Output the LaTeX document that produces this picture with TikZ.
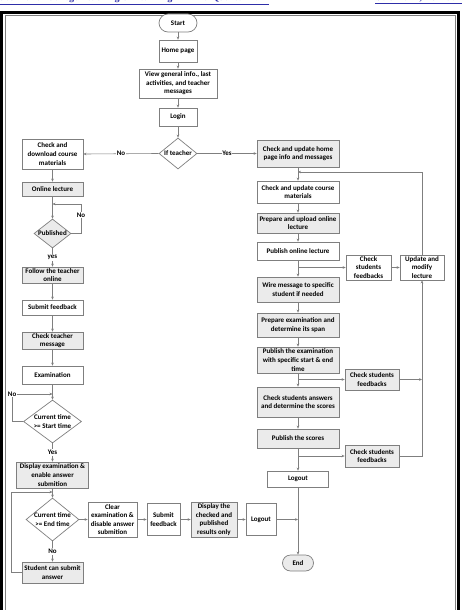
\documentclass[tikz,border=0pt]{standalone}
\usepackage{fontspec}
\setmainfont{Carlito}
\newfontfamily\hdrfont{Liberation Serif}
\usetikzlibrary{shapes.geometric,arrows.meta}
\definecolor{lg}{HTML}{7F7F7F}
\definecolor{bg}{HTML}{EBEBEB}
\definecolor{hb}{HTML}{2E2EA8}
\tikzset{
  bx/.style={draw=lg, line width=0.7pt, align=center, inner sep=0pt, font=\bfseries\fontsize{7}{8.6}\selectfont, fill=white},
  gb/.style={bx, fill=bg},
  wh/.style 2 args={minimum width=#1pt, minimum height=#2pt},
  dia/.style={diamond, draw=lg, line width=0.7pt, inner sep=0pt, fill=white},
  txt/.style={align=center, inner sep=0pt, font=\bfseries\fontsize{7}{8.6}\selectfont},
  lab/.style={fill=white, inner sep=0.8pt, font=\bfseries\fontsize{7}{8.6}\selectfont},
  ar/.style={draw=lg, line width=0.6pt, -{Stealth[length=3pt,width=2.6pt]}},
  ln/.style={draw=lg, line width=0.6pt},
}
\begin{document}
\begin{tikzpicture}[x=1pt,y=-1pt]
\clip (0,0) rectangle (462,610);
% header
\node[anchor=base west, inner sep=0pt, text=hb, font=\hdrfont\bfseries\fontsize{10}{12}\selectfont] (hl) at (0,0.5) {\underline{Journal of College Teaching \& Learning -- Third Quarter 2014}};
\node[anchor=base west, inner sep=0pt, text=hb, font=\hdrfont\bfseries\fontsize{10}{12}\selectfont] (hr) at (375,0.5) {\underline{Volume 11, Number 3}};
% frame
\draw[black, line width=3pt] (1.5,12.5) rectangle (458.5,640);
\draw[lg, line width=0.6pt] (5,15.8) rectangle (455,640);

% top
\node[bx, wh={38}{18}, rounded corners=9pt] (start) at (178,23) {Start};
\node[bx, wh={38}{22}] (home) at (178,51) {Home page};
\node[bx, wh={78}{29}] (view) at (178,83.5) {View general info., last\\activities, and teacher\\messages};
\node[bx, wh={38}{18}] (login) at (178,117) {Login};
\node[dia, minimum width=38pt, minimum height=31pt] (ift) at (178,153.5) {};
\node[txt] (ift-t) at (ift) {If teacher};

% left column
\node[bx, wh={61}{30}] (dl) at (52.5,154) {Check and\\download course\\materials};
\node[gb, wh={61}{14}] (onl) at (52.5,189) {Online lecture};
\node[dia, fill=bg, minimum width=37pt, minimum height=29pt] (pub) at (52.5,233.5) {};
\node[txt] (pub-t) at (pub) {Published};
\node[gb, wh={61}{16}] (fol) at (52.5,275) {Follow the teacher\\online};
\node[bx, wh={61}{15}] (sfb) at (52.5,307.5) {Submit feedback};
\node[gb, wh={61}{17}] (ctm) at (52.5,340.5) {Check teacher\\message};
\node[bx, wh={61}{18}] (exam) at (52.5,375) {Examination};
\node[dia, minimum width=58pt, minimum height=43pt] (cst) at (52.5,421.5) {};
\node[txt] (cst-t) at (cst) {Current time\\>= Start time};
\node[gb, wh={72}{26}] (dex) at (52.5,475) {Display examination \&\\enable answer\\submition};
\node[dia, minimum width=53pt, minimum height=43pt] (cet) at (52.5,519.5) {};
\node[txt] (cet-t) at (cet) {Current time\\>= End time};
\node[gb, wh={61}{21}] (stu) at (52.5,572.5) {Student can submit\\answer};
\node[bx, wh={49}{35}] (clr) at (112.5,519.5) {Clear\\examination \&\\disable answer\\submition};
\node[bx, wh={33}{32}] (sfb2) at (163.5,519.5) {Submit\\feedback};
\node[gb, wh={46}{35}] (dchk) at (214,519.5) {Display the\\checked and\\published\\results only};
\node[bx, wh={30}{32}] (lo2) at (261,519.5) {Logout};

% right column
\node[gb, wh={82}{27}] (chh) at (298,153.5) {Check and update home\\page info and messages};
\node[bx, wh={82}{22}] (chc) at (298,192) {Check and update course\\materials};
\node[gb, wh={82}{20}] (pul) at (298,223) {Prepare and upload online\\lecture};
\node[bx, wh={82}{18}] (pol) at (298,251) {Publish online lecture};
\node[bx, wh={45}{25}] (csf1) at (368.5,267.5) {Check\\students\\feedbacks};
\node[bx, wh={44}{25}] (upd) at (422,267.5) {Update and\\modify\\lecture};
\node[gb, wh={82}{25}] (wire) at (298,289.5) {Wire message to specific\\student if needed};
\node[gb, wh={82}{24}] (pex) at (298,325) {Prepare examination and\\determine its span};
\node[gb, wh={82}{26}] (pbe) at (298,360) {Publish the examination\\with specific start \& end\\time};
\node[gb, wh={54}{21}] (csf2) at (372,379.5) {Check students\\feedbacks};
\node[gb, wh={82}{30}] (cans) at (298,402) {Check students answers\\and determine the scores};
\node[gb, wh={82}{19}] (psc) at (298,438.5) {Publish the scores};
\node[gb, wh={54}{22}] (csf3) at (372,456) {Check students\\feedbacks};
\node[bx, wh={61}{16}] (lo1) at (298,479) {Logout};
\node[gb, wh={31}{16}, rounded corners=8pt] (end) at (298,563) {End};

% coordinates
\coordinate (pubin) at (52.5,204);
\coordinate (stin) at (52.5,394);
\coordinate (endin) at (52.5,492);
\coordinate (chin) at (298,172);
\coordinate (b1) at (298,267.5);
\coordinate (b2) at (298,379.5);
\coordinate (b3) at (298,456);
\coordinate (r2) at (422,379.5);
\coordinate (j) at (298,519.5);

% connectors top
\draw[ar] (start) -- (home);
\draw[ar] (home) -- (view);
\draw[ar] (view) -- (login);
\draw[ar] (login) -- (ift);
\draw[ar] (ift.west) -- node[lab] (l-no1) {No} (dl.east);
\draw[ar] (ift.east) -- node[lab] (l-yes1) {Yes} (chh.west);

% left connectors
\draw[ar] (dl) -- (onl);
\draw[ar] (onl) -- (pub);
\draw[ar] (pub.east) -- ++(9.7,0) |- node[lab, pos=0.31] (l-no2) {No} (pubin);
\draw[ar] (pub) -- node[lab] (l-yes2) {yes} (fol);
\draw[ar] (fol) -- (sfb);
\draw[ar] (sfb) -- (ctm);
\draw[ar] (ctm) -- (exam);
\draw[ar] (exam) -- (cst);
\draw[ar] (cst.west) -- ++(-11,0) |- node[lab, pos=0.5] (l-no3) {No} (stin);
\draw[ar] (cst) -- node[lab] (l-yes3) {Yes} (dex);
\draw[ar] (dex) -- (cet);
\draw[ar] (cet) -- node[lab] (l-no4) {No} (stu);
\draw[ar] (stu.west) -- ++(-10,0) |- (endin);
\draw[ar] (cet.east) -- (clr.west);
\draw[ar] (clr) -- (sfb2);
\draw[ar] (sfb2) -- (dchk);
\draw[ar] (dchk) -- (lo2);
\draw[ar] (lo2.east) -- (j);

% right connectors
\draw[ar] (chh) -- (chc);
\draw[ar] (chc) -- (pul);
\draw[ar] (pul) -- (pol);
\draw[ar] (pol) -- (wire);
\draw[ar] (b1) -- (csf1.west);
\draw[ar] (csf1) -- (upd);
\draw[ar] (upd.north) |- (chin);
\draw[ar] (wire) -- (pex);
\draw[ar] (pex) -- (pbe);
\draw[ar] (pbe) -- (cans);
\draw[ar] (b2) -- (csf2.west);
\draw[ar] (csf2.east) -- (r2);
\draw[ar] (cans) -- (psc);
\draw[ar] (psc) -- (lo1);
\draw[ar] (b3) -- (csf3.west);
\draw[ar] (csf3.east) -| (upd.south);
\draw[ar] (lo1) -- (end);
\end{tikzpicture}
\end{document}
